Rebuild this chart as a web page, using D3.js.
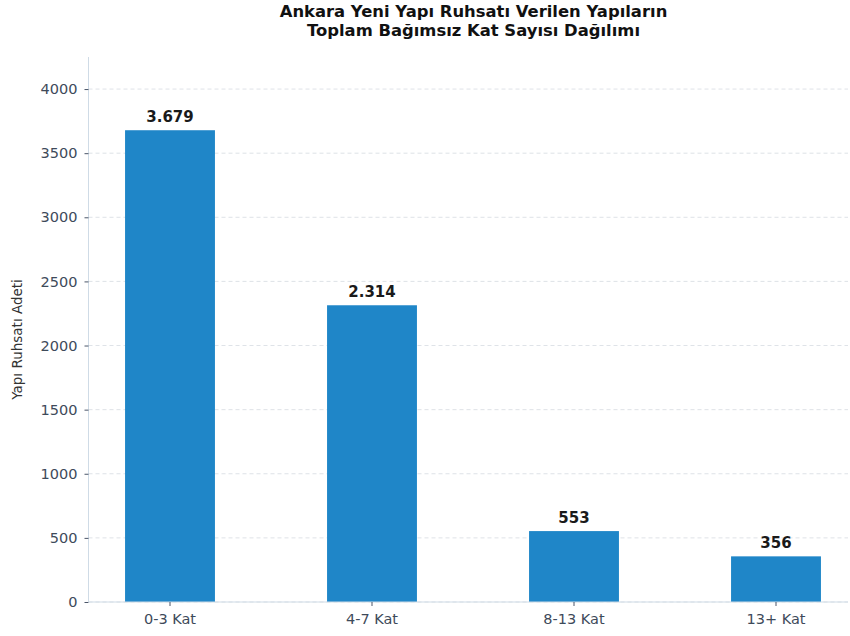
<!DOCTYPE html>
<html><head><meta charset="utf-8">
<script src="https://cdn.jsdelivr.net/npm/d3@7/dist/d3.min.js"></script>
<style>body{margin:0;background:#fff}svg{display:block}</style>
</head><body>
<svg id="c" width="850" height="636"></svg>
<script>
const categories = ["0-3 Kat", "4-7 Kat", "8-13 Kat", "13+ Kat"];
const values = [3679, 2314, 553, 356];
const yTicks = [0, 500, 1000, 1500, 2000, 2500, 3000, 3500, 4000];
const titleLines = ["Ankara Yeni Yapı Ruhsatı Verilen Yapıların", "Toplam Bağımsız Kat Sayısı Dağılımı"];
const yLabel = "Yapı Ruhsatı Adeti";

(function () {
const svg = d3.select("#c");
const font = "'DejaVu Sans', sans-serif";
const mL = 88.5, mR = 848, mT = 57, mB = 602;

const x = d3.scaleBand().domain(categories).range([69, 877]).paddingInner(0.555).paddingOuter(0.2775);
const y = d3.scaleLinear().domain([0, 4250]).range([mB, mT]);

// grid
svg.append("g").selectAll("line").data(yTicks).join("line")
  .attr("x1", mL).attr("x2", mR)
  .attr("y1", d => y(d)).attr("y2", d => y(d))
  .attr("stroke", "#d5dbe1").attr("stroke-width", 0.8).attr("stroke-dasharray", "4,3");

// bars
svg.append("g").selectAll("rect").data(values).join("rect")
  .attr("x", (d, i) => x(categories[i]))
  .attr("width", x.bandwidth())
  .attr("y", d => y(d))
  .attr("height", d => mB - y(d))
  .attr("fill", "#1f86c8");

// bar labels
const fmt = v => d3.format(",")(v).replace(/,/g, ".");
svg.append("g").selectAll("text").data(values).join("text")
  .attr("x", (d, i) => x(categories[i]) + x.bandwidth() / 2)
  .attr("y", d => y(d) - 8)
  .attr("text-anchor", "middle")
  .attr("font-family", font).attr("font-weight", "bold").attr("font-size", 15)
  .attr("fill", "#1a1a1a")
  .text(fmt);

// axes
const yAxis = d3.axisLeft(y).tickValues(yTicks).tickFormat(d3.format("d")).tickSize(4).tickPadding(7);
const gy = svg.append("g").attr("transform", `translate(${mL},0)`).call(yAxis);
gy.select(".domain").attr("stroke", "#cfdbe6").attr("d", `M0,${mB}V${mT}`);
gy.selectAll(".tick line").attr("stroke", "#4a5568");
gy.selectAll(".tick text").attr("font-family", font).attr("font-size", 14.5).attr("fill", "#3e4a5a");

const xAxis = d3.axisBottom(x).tickSize(4).tickPadding(8);
const gx = svg.append("g").attr("transform", `translate(0,${mB})`).call(xAxis);
gx.select(".domain").attr("stroke", "#cfdbe6").attr("d", `M${mL},0H${mR}`);
gx.selectAll(".tick line").attr("stroke", "#4a5568");
gx.selectAll(".tick text").attr("font-family", font).attr("font-size", 14.5).attr("fill", "#3e4a5a");

// y label
svg.append("text")
  .attr("transform", `translate(22,${(mT + mB) / 2 + 10}) rotate(-90)`)
  .attr("text-anchor", "middle")
  .attr("font-family", font).attr("font-size", 13.5).attr("fill", "#333")
  .text(yLabel);

// title
svg.append("g").selectAll("text").data(titleLines).join("text")
  .attr("x", 473.5).attr("y", (d, i) => 17 + i * 19)
  .attr("text-anchor", "middle")
  .attr("font-family", font).attr("font-weight", "bold").attr("font-size", 16.4)
  .attr("fill", "#111")
  .text(d => d);
})();
</script>
</body></html>
